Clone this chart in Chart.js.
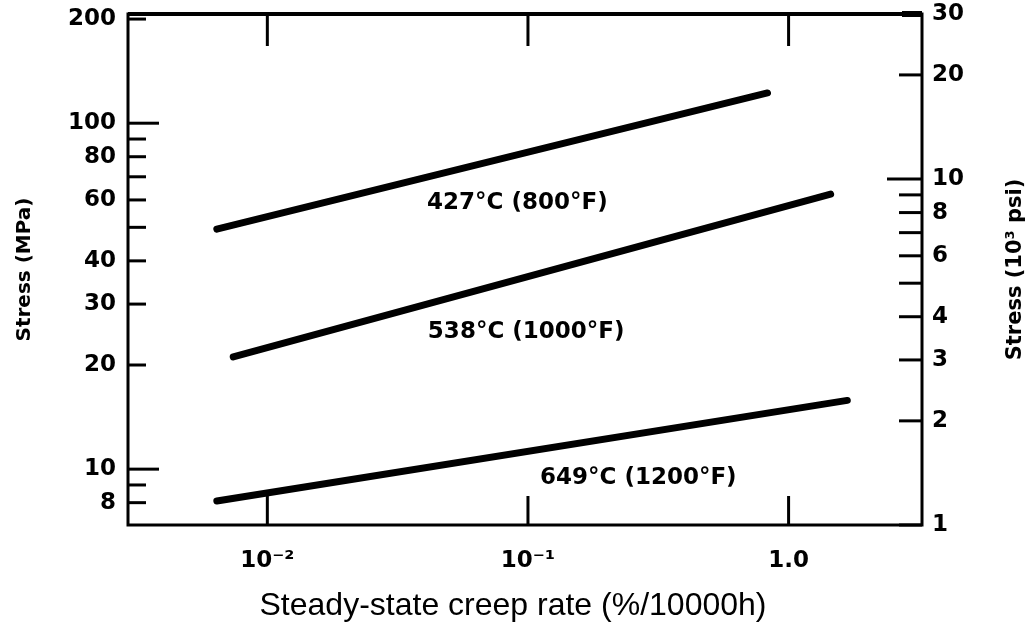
<!DOCTYPE html>
<html>
<head>
<meta charset="utf-8">
<script src="https://cdn.jsdelivr.net/npm/chart.js@4.4.1/dist/chart.umd.min.js"></script>
<style>
  html, body { margin: 0; padding: 0; background: #fff; }
  canvas { display: block; }
</style>
</head>
<body>
<canvas id="chart" width="1033" height="623"></canvas>
<script>
// steady-state creep rate (%/10000h) vs stress (MPa), straight lines on log-log
const creep800 = [0.0064, 0.83];
const stress800 = [49.4, 122.3];
const creep1000 = [0.0074, 1.45];
const stress1000 = [21.1, 62.4];
const creep1200 = [0.0064, 1.68];
const stress1200 = [8.09, 15.8];

const seriesNames = ['427°C (800°F)', '538°C (1000°F)', '649°C (1200°F)'];

const xTicks = [0.01, 0.1, 1];
const xTickLabels = ['10⁻²', '10⁻¹', '1.0'];
const mpaTicks = [8, 9, 10, 20, 30, 40, 50, 60, 70, 80, 90, 100, 200];
const mpaLabels = [8, 10, 20, 30, 40, 60, 80, 100, 200];
const ksiTicks = [1, 2, 3, 4, 5, 6, 7, 8, 9, 10, 20, 30];
const ksiLabels = [1, 2, 3, 4, 6, 8, 10, 20, 30];

const KSI = 6.895; // MPa per 10^3 psi

// where the curve names sit (creep rate, MPa)
const nameAt = [[0.041, 58.8], [0.0413, 24.9], [0.1112, 9.43]];

const pts = (xs, ys) => xs.map((x, i) => ({ x: x, y: ys[i] }));

Chart.defaults.font.family = 'DejaVu Sans';
Chart.defaults.color = '#000';

const tickFont = { family: 'DejaVu Sans', weight: 'bold', size: 23 };

// no extra room for half labels at the ends, the frame sits where we put it
const noEdgePad = s => {
  s.paddingTop = 0;
  s.paddingBottom = 0;
  s.paddingLeft = 0;
  s.paddingRight = 0;
};

// frame, inward tick marks, curve names and the titles
const frameTicks = {
  id: 'frameTicks',
  afterDatasetsDraw(chart) {
    const { ctx, chartArea: a, scales } = chart;
    const line = (x1, y1, x2, y2) => {
      ctx.beginPath();
      ctx.moveTo(x1, y1);
      ctx.lineTo(x2, y2);
      ctx.stroke();
    };
    ctx.save();
    ctx.strokeStyle = '#000';
    ctx.lineWidth = 3;
    xTicks.forEach(v => {
      const x = scales.x.getPixelForValue(v);
      line(x, a.bottom, x, a.bottom - 29);
      line(x, a.top, x, a.top + 32);
    });
    mpaTicks.forEach(v => {
      const y = scales.y.getPixelForValue(v);
      const len = (v === 10 || v === 100) ? 31 : 18;
      line(a.left, y, a.left + len, y);
    });
    ksiTicks.forEach(v => {
      const y = scales.y2.getPixelForValue(v);
      ctx.lineWidth = v === 30 ? 6 : 3;
      const len = v === 10 ? 35 : (v === 30 ? 20 : 23);
      line(a.right, y, a.right - len, y);
    });
    ctx.lineWidth = 3;
    ctx.strokeRect(a.left, a.top, a.right - a.left, a.bottom - a.top);
    ctx.lineWidth = 4;
    line(a.left, a.top, a.right, a.top);

    ctx.fillStyle = '#000';
    ctx.font = 'bold 23px "DejaVu Sans"';
    ctx.textAlign = 'left';
    ctx.textBaseline = 'middle';
    seriesNames.forEach((t, i) => {
      ctx.fillText(t, scales.x.getPixelForValue(nameAt[i][0]), scales.y.getPixelForValue(nameAt[i][1]));
    });

    ctx.textAlign = 'center';
    ctx.textBaseline = 'alphabetic';
    ctx.font = '32px "Liberation Sans"';
    ctx.fillText('Steady-state creep rate (%/10000h)', 513, 615);

    // right axis title reads bottom to top like the left one
    ctx.translate(1016, (a.top + a.bottom) / 2);
    ctx.rotate(-Math.PI / 2);
    ctx.textBaseline = 'middle';
    ctx.font = 'bold 21px "DejaVu Sans"';
    ctx.fillText('Stress (10³ psi)', 0, 0);
    ctx.restore();
  }
};

const lineStyle = {
  borderColor: '#000',
  borderWidth: 7,
  borderCapStyle: 'round',
  pointRadius: 0,
  fill: false
};

new Chart(document.getElementById('chart'), {
  type: 'line',
  data: {
    datasets: [
      Object.assign({ label: seriesNames[0], data: pts(creep800, stress800) }, lineStyle),
      Object.assign({ label: seriesNames[1], data: pts(creep1000, stress1000) }, lineStyle),
      Object.assign({ label: seriesNames[2], data: pts(creep1200, stress1200) }, lineStyle)
    ]
  },
  options: {
    responsive: false,
    animation: false,
    layout: { padding: { top: 14, left: 0, right: 0, bottom: 0 } },
    plugins: {
      legend: { display: false },
      tooltip: { enabled: false }
    },
    scales: {
      x: {
        type: 'logarithmic',
        min: 0.00292,
        max: 3.25,
        bounds: 'data',
        grid: { display: false, drawTicks: false },
        border: { display: false },
        afterBuildTicks: s => { s.ticks = xTicks.map(v => ({ value: v })); },
        afterFit: s => { s.height = 98; noEdgePad(s); },
        ticks: {
          autoSkip: false,
          maxRotation: 0,
          padding: 22,
          font: tickFont,
          color: '#000',
          callback: v => {
            const i = xTicks.indexOf(v);
            return i < 0 ? '' : xTickLabels[i];
          }
        }
      },
      y: {
        type: 'logarithmic',
        position: 'left',
        min: 1 * KSI,
        max: 30 * KSI,
        bounds: 'data',
        grid: { display: false, drawTicks: false },
        border: { display: false },
        afterBuildTicks: s => { s.ticks = mpaTicks.map(v => ({ value: v })); },
        afterFit: s => { s.width = 128; noEdgePad(s); },
        ticks: {
          autoSkip: false,
          padding: 12,
          font: tickFont,
          color: '#000',
          callback: v => mpaLabels.includes(v) ? String(v) : ''
        },
        title: {
          display: true,
          text: 'Stress (MPa)',
          font: { family: 'DejaVu Sans', weight: 'bold', size: 20 },
          color: '#000',
          padding: { top: 13, bottom: 0 }
        }
      },
      y2: {
        type: 'logarithmic',
        position: 'right',
        min: 1,
        max: 30,
        bounds: 'data',
        grid: { display: false, drawTicks: false },
        border: { display: false },
        afterBuildTicks: s => { s.ticks = ksiTicks.map(v => ({ value: v })); },
        afterFit: s => { s.width = 111; noEdgePad(s); },
        ticks: {
          autoSkip: false,
          padding: 10,
          font: tickFont,
          color: '#000',
          callback: v => ksiLabels.includes(v) ? String(v) : ''
        }
      }
    }
  },
  plugins: [frameTicks]
});
</script>
</body>
</html>
